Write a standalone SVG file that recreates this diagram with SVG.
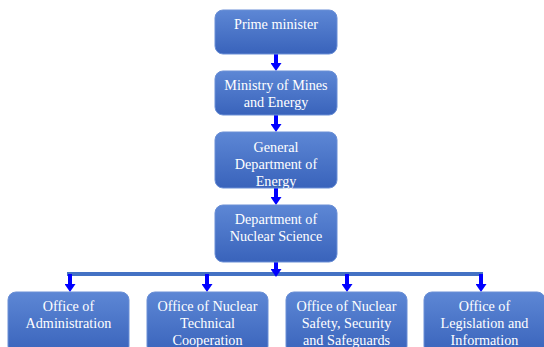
<svg xmlns="http://www.w3.org/2000/svg" width="544" height="347" viewBox="0 0 544 347">
<defs>
<linearGradient id="g" x1="0" y1="0" x2="0" y2="1">
<stop offset="0" stop-color="#5d87d5"/>
<stop offset="1" stop-color="#3963bb"/>
</linearGradient>
<marker id="ah" markerUnits="userSpaceOnUse" markerWidth="8" markerHeight="11" refX="0" refY="5.5" orient="auto" viewBox="0 0 8 11">
<path d="M0,0 L8,5.5 L0,11 z" fill="#0000ff"/>
</marker>
<style>
.box{fill:url(#g);stroke:#6a8fd6;stroke-width:1}
.t{font-family:'Liberation Serif','Times New Roman',serif;font-size:14.2px;fill:#ffffff;text-anchor:middle}
.a{stroke:#0000ff;stroke-width:4;fill:none;marker-end:url(#ah)}
.bar{stroke:#4472c4;stroke-width:4;fill:none}
</style>
</defs>
<rect width="544" height="347" fill="#ffffff"/>
<g id="connectors">
<line class="a" x1="276" y1="54" x2="276" y2="63"/>
<line class="a" x1="276" y1="115" x2="276" y2="124"/>
<line class="a" x1="276" y1="188" x2="276" y2="197"/>
<line class="bar" x1="67" y1="274" x2="483" y2="274"/>
<line class="a" x1="276" y1="262" x2="276" y2="269"/>
<line class="a" x1="70" y1="274" x2="70" y2="284"/>
<line class="a" x1="207" y1="274" x2="207" y2="284"/>
<line class="a" x1="347" y1="274" x2="347" y2="284"/>
<line class="a" x1="481" y1="274" x2="481" y2="284"/>
</g>
<g id="prime">
<rect class="box" x="215" y="10" width="122" height="44" rx="8"/>
<text class="t" x="276" y="29">Prime minister</text>
</g>
<g id="ministry">
<rect class="box" x="215" y="71" width="122" height="44" rx="8"/>
<text class="t" x="276" y="89.5">Ministry of Mines</text>
<text class="t" x="276" y="106.5">and Energy</text>
</g>
<g id="general">
<rect class="box" x="215" y="132" width="122" height="56" rx="8"/>
<text class="t" x="276" y="151.5">General</text>
<text class="t" x="276" y="168.5">Department of</text>
<text class="t" x="276" y="185.5">Energy</text>
</g>
<g id="nuclear">
<rect class="box" x="215" y="205" width="122" height="57" rx="8"/>
<text class="t" x="276" y="224">Department of</text>
<text class="t" x="276" y="241">Nuclear Science</text>
</g>
<g id="admin">
<rect class="box" x="8" y="292" width="121" height="62" rx="8"/>
<text class="t" x="68.5" y="311">Office of</text>
<text class="t" x="68.5" y="328">Administration</text>
</g>
<g id="technical">
<rect class="box" x="147" y="292" width="121" height="62" rx="8"/>
<text class="t" x="207.5" y="311">Office of Nuclear</text>
<text class="t" x="207.5" y="328">Technical</text>
<text class="t" x="207.5" y="345">Cooperation</text>
</g>
<g id="safety">
<rect class="box" x="286" y="292" width="121" height="62" rx="8"/>
<text class="t" x="346.5" y="311">Office of Nuclear</text>
<text class="t" x="346.5" y="328">Safety, Security</text>
<text class="t" x="346.5" y="345">and Safeguards</text>
</g>
<g id="legislation">
<rect class="box" x="424" y="292" width="121" height="62" rx="8"/>
<text class="t" x="484.5" y="311">Office of</text>
<text class="t" x="484.5" y="328">Legislation and</text>
<text class="t" x="484.5" y="345">Information</text>
</g>
</svg>
